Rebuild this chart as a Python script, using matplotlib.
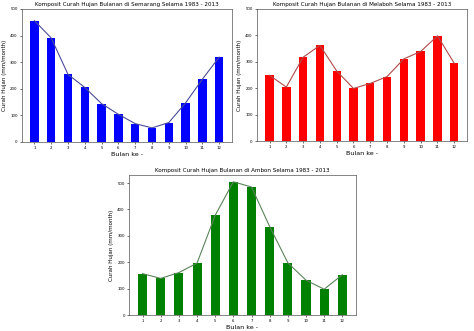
import numpy as np
import matplotlib.pyplot as plt

bulan = [1, 2, 3, 4, 5, 6, 7, 8, 9, 10, 11, 12]

# curah hujan komposit (mm/month)
semarang = [456, 391, 254, 205, 144, 104, 69, 53, 73, 147, 236, 319]
melaboh = [249, 204, 317, 362, 265, 199, 218, 244, 311, 339, 398, 294]
ambon = [157, 139, 161, 197, 378, 505, 485, 335, 198, 132, 98, 153]

fig = plt.figure(figsize=(4.74, 3.31), dpi=100)

panels = [
    ([0.046, 0.571, 0.443, 0.402], semarang, 'blue', '#4b4b9c', 'Semarang', 500),
    ([0.542, 0.574, 0.443, 0.399], melaboh, 'red', '#b24a4a', 'Melaboh', 500),
    ([0.272, 0.048, 0.479, 0.423], ambon, 'green', '#5a845a', 'Ambon', None),
]

for pos, data, warna, warna_garis, kota, ymax in panels:
    ax = fig.add_axes(pos)
    x = np.arange(len(bulan))
    ax.bar(x, data, width=0.5, color=warna)
    ax.plot(x, data, color=warna_garis, lw=0.8)
    ax.set_xticks(x)
    ax.set_xticklabels(bulan)
    ax.set_xlim(-0.75, len(bulan) - 0.25)
    if ymax:
        ax.set_ylim(0, ymax)
    else:
        ax.set_ylim(0, max(data) * 1.05)
    ax.set_yticks([0, 100, 200, 300, 400, 500])
    ax.tick_params(labelsize=2.8, length=1.5, width=0.4, pad=1.5)
    for s in ax.spines.values():
        s.set_linewidth(0.5)
        s.set_color('#555555')
    ax.set_title('Komposit Curah Hujan Bulanan di %s Selama 1983 - 2013' % kota,
                 fontsize=4.1, pad=2)
    ax.set_xlabel('Bulan ke -', fontsize=4.6, labelpad=1.5)
    ax.set_ylabel('Curah Hujan (mm/month)', fontsize=4.0, labelpad=2.5)

fig.savefig('out.png', dpi=100)
